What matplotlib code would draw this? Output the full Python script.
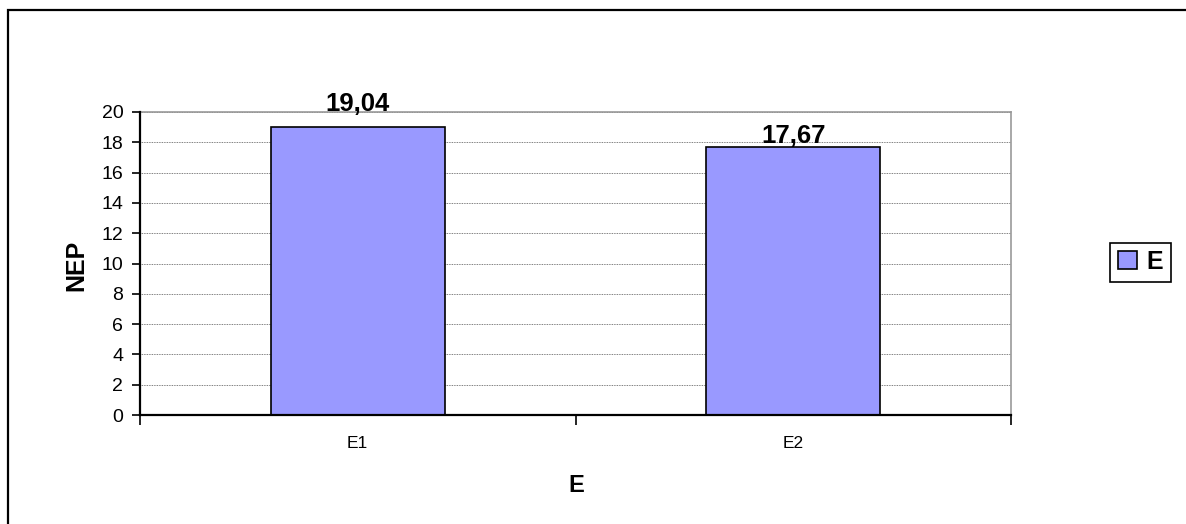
import matplotlib.pyplot as plt
from matplotlib.patches import Rectangle, Patch

categories = ['E1', 'E2']
values = [19.04, 17.67]
value_labels = ['19,04', '17,67']
series_name = 'E'
y_ticks = [0, 2, 4, 6, 8, 10, 12, 14, 16, 18, 20]

W, H = 1186, 524
plt.rcParams['font.family'] = ['Liberation Sans', 'DejaVu Sans']

fig = plt.figure(figsize=(W / 100, H / 100), dpi=100)
fig.patches.append(Rectangle((8 / W, 0 - 0.1), 1.2, (1 - 10 / H) + 0.1,
                             transform=fig.transFigure, fill=False,
                             edgecolor='black', linewidth=1.6))

left, right, top, bottom = 140, 1011, 112, 415
ax = fig.add_axes([left / W, 1 - bottom / H, (right - left) / W, (bottom - top) / H])

x = list(range(len(categories)))
bars = ax.bar(x, values, width=0.4, color='#9999FF', edgecolor='black', linewidth=1.2, zorder=3)

# label offsets in px above the bar top (excel put them oddly)
offsets = [16, 4]
for b, lab, off in zip(bars, value_labels, offsets):
    ax.annotate(lab, (b.get_x() + b.get_width() / 2, b.get_height()),
                xytext=(0, off * 0.72), textcoords='offset points',
                ha='center', va='baseline', fontsize=18.5, fontweight='bold',
                annotation_clip=False, zorder=4)

ax.set_xlim(-0.5, len(categories) - 0.5)
ax.set_ylim(0, 20)
ax.set_yticks(y_ticks)
ax.set_xticks([i - 0.5 for i in range(len(categories) + 1)])
ax.set_xticklabels([])
ax.set_xticks(x, minor=True)
ax.set_xticklabels(categories, minor=True)
ax.tick_params(axis='x', which='minor', length=0, pad=15, labelsize=12.5)
ax.tick_params(axis='x', which='major', direction='out', length=7, width=1.2)
ax.tick_params(axis='y', direction='out', length=6, width=1.2, pad=6, labelsize=14)

ax.grid(axis='y', color='#555555', linestyle=(0, (1, 1)), linewidth=0.6, zorder=0)
for s in ['left', 'bottom']:
    ax.spines[s].set_linewidth(1.6)
    ax.spines[s].set_zorder(5)
for s in ['top', 'right']:
    ax.spines[s].set_color('#999999')
    ax.spines[s].set_linewidth(1.2)

fig.text(76 / W, 1 - 265 / H, 'NEP', rotation=90, ha='center', va='center',
         fontsize=18, fontweight='bold')
fig.text(576 / W, 1 - 486 / H, 'E', ha='center', va='center',
         fontsize=17, fontweight='bold')

leg = fig.legend(handles=[Patch(facecolor='#9999FF', edgecolor='black', linewidth=1.2)],
                 labels=[series_name], loc='center',
                 bbox_to_anchor=(1140.5 / W, 1 - 262 / H),
                 prop={'size': 18, 'weight': 'bold'}, fancybox=False,
                 edgecolor='black', framealpha=1, handlelength=0.75, handleheight=0.75,
                 handletextpad=0.4, borderpad=0.3, borderaxespad=0)
leg.get_frame().set_linewidth(1.2)

fig.savefig('out.png', dpi=100)
